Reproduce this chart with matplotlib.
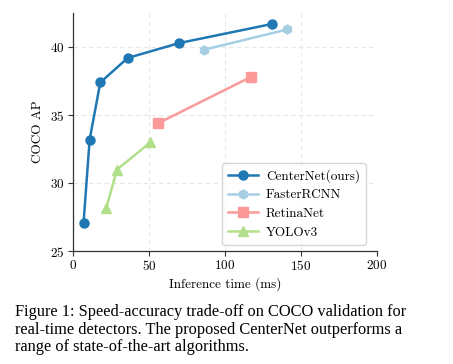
import matplotlib

matplotlib.use("Agg")
import matplotlib.pyplot as plt

plt.rcParams["font.family"] = ["cmr10", "DejaVu Serif"]
plt.rcParams["axes.formatter.use_mathtext"] = True
plt.rcParams["mathtext.fontset"] = "cm"

# inference time (ms) and COCO AP per detector
centernet_t = [7, 11, 18, 36, 70, 131]
centernet_ap = [27.1, 33.2, 37.4, 39.2, 40.3, 41.7]
faster_t = [86, 141]
faster_ap = [39.8, 41.3]
retina_t = [56, 117]
retina_ap = [34.4, 37.8]
yolo_t = [22, 29, 51]
yolo_ap = [28.2, 31.0, 33.0]

caption = ("Figure 1: Speed-accuracy trade-off on COCO validation for\n"
           "real-time detectors. The proposed CenterNet outperforms a\n"
           "range of state-of-the-art algorithms.")

fig = plt.figure(figsize=(4.53, 3.64), dpi=100)
ax = fig.add_axes([0.161, 0.31, 0.671, 0.654])

ax.plot(centernet_t, centernet_ap, "-o", color="#1f78b4", lw=1.8, ms=6.5, label="CenterNet(ours)")
ax.plot(faster_t, faster_ap, "-h", color="#a6cee3", lw=1.8, ms=6.5, label="FasterRCNN")
ax.plot(retina_t, retina_ap, "-s", color="#fb9a99", lw=1.8, ms=6.5, label="RetinaNet")
ax.plot(yolo_t, yolo_ap, "-^", color="#b2df8a", lw=1.8, ms=6.5, label="YOLOv3")

ax.set_xlim(0, 200)
ax.set_ylim(25, 42.5)
ax.set_xticks([0, 50, 100, 150, 200])
ax.set_yticks([25, 30, 35, 40])
ax.set_xlabel("Inference time (ms)", fontsize=9.5, labelpad=2.5)
ax.set_ylabel("COCO AP", fontsize=9.5, labelpad=4)
ax.tick_params(labelsize=9.5, color="#333333", length=3.5, width=0.8, pad=2.5)
ax.grid(True, ls=(0, (4, 3)), color="#e6e6e6", lw=0.8)
ax.set_axisbelow(True)
for s in ("top", "right"):
    ax.spines[s].set_visible(False)
for s in ("left", "bottom"):
    ax.spines[s].set_color("#333333")
    ax.spines[s].set_linewidth(0.9)

leg = ax.legend(loc="lower right", fontsize=9.5, frameon=True, fancybox=True,
                borderpad=0.45, handlelength=2.3, labelspacing=0.48,
                handletextpad=0.6, bbox_to_anchor=(0.985, 0.0))
leg.get_frame().set_edgecolor("#cccccc")

fig.text(0.033, 0.164, caption, fontsize=11.8, family="Liberation Serif",
         va="top", ha="left", linespacing=1.13)

fig.savefig("out.png", dpi=100)
